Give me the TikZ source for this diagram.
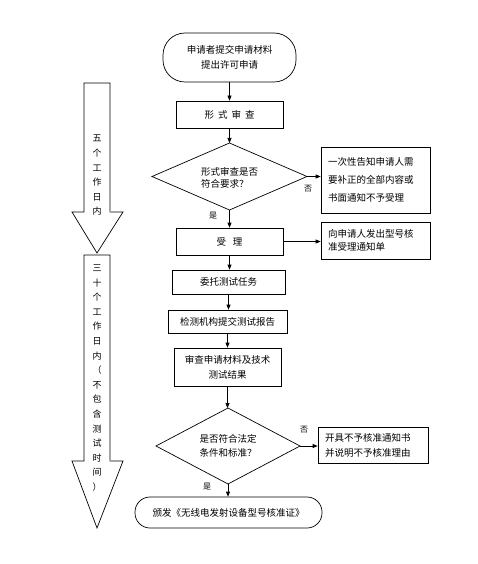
\documentclass[tikz,border=0pt]{standalone}
\usepackage{fontspec}
\setmainfont{Noto Sans CJK SC}
\usetikzlibrary{arrows.meta}
\begin{document}
\begin{tikzpicture}[x=1pt,y=-1pt,
  line width=0.7pt,
  box/.style={draw, inner sep=0pt, font=\fontsize{9.5}{15}\selectfont},
  arr/.style={-{Triangle[length=5pt,width=4pt]}},
  lbl/.style={font=\fontsize{8}{8}\selectfont, inner sep=0pt},
  txt/.style={inner sep=0pt, align=left},
  vtext/.style={font=\fontsize{9}{14.6}\selectfont, align=center, inner sep=0pt},
  bigarrow/.style={draw, line width=0.7pt, fill=white},
  shadow/.style={draw=gray!70, line width=1.6pt}
]
\useasboundingbox (0,0) rectangle (478,564);
\fill[white] (0,0) rectangle (478,564);

% left time arrows
\draw[bigarrow] (84,83) -- (110,83) -- (110,212) -- (123,212) -- (97,253) -- (72,212) -- (84,212) -- cycle;
\draw[shadow] (110.5,84) -- (110.5,211.5);
\node[vtext] (t1) at (97,175.5) {五\\个\\工\\作\\日\\内};

\draw[bigarrow] (84,255) -- (110,255) -- (110,461) -- (123,461) -- (97,528) -- (72,461) -- (84,461) -- cycle;
\draw[shadow] (110.5,256) -- (110.5,460.5);
\node[vtext] (t2) at (97,378) {三\\十\\个\\工\\作\\日\\内\\（\\不\\包\\含\\测\\试\\时\\间\\）};

% main flow
\node[box, rounded corners=22pt, minimum width=133pt, minimum height=49pt, align=center] (start) at (229.5,57.5) {申请者提交申请材料\\提出许可申请};
\node[box, minimum width=107pt, minimum height=27pt] (xs) at (229.5,114.5) {形\hspace{4pt}式\hspace{4pt}审\hspace{4pt}查};

\coordinate (d1t) at (229.5,143);
\coordinate (d1r) at (307,176.5);
\coordinate (d1b) at (229.5,210);
\coordinate (d1l) at (152,176.5);
\draw (d1t) -- (d1r) -- (d1b) -- (d1l) -- cycle;
\node[txt, font=\fontsize{9.5}{12}\selectfont] (d1) at (229.5,177.5) {形式审查是否\\符合要求？};

\node[box, minimum width=109pt, minimum height=66pt, text width=95pt, align=left, font=\fontsize{9.5}{18}\selectfont] (r1) at (375.5,180) {一次性告知申请人需\\要补正的全部内容或\\书面通知不予受理};

\node[box, minimum width=107pt, minimum height=27pt] (sl) at (229.5,241.5) {受\hspace{7pt}理};
\node[box, minimum width=109pt, minimum height=37pt, text width=95pt, align=left, font=\fontsize{9.5}{13}\selectfont] (r2) at (375.5,240.5) {向申请人发出型号核\\准受理通知单};

\node[box, minimum width=113pt, minimum height=24pt] (wt) at (228.5,282) {委托测试任务};
\node[box, minimum width=119pt, minimum height=23pt] (jc) at (227.5,321.5) {检测机构提交测试报告};
\node[box, minimum width=107pt, minimum height=38pt, align=center] (sc) at (227.5,367) {审查申请材料及技术\\测试结果};

\coordinate (d2t) at (228,408);
\coordinate (d2r) at (300,446);
\coordinate (d2b) at (228,484);
\coordinate (d2l) at (156,446);
\draw (d2t) -- (d2r) -- (d2b) -- (d2l) -- cycle;
\node[txt, font=\fontsize{9.5}{14}\selectfont] (d2) at (228,446) {是否符合法定\\条件和标准？};

\node[box, minimum width=110pt, minimum height=36pt, text width=96pt, align=left, font=\fontsize{9.5}{15}\selectfont] (r3) at (373,445) {开具不予核准通知书\\并说明不予核准理由};

\node[box, rounded corners=15pt, minimum width=187pt, minimum height=31pt] (end) at (228.5,512.5) {颁发《无线电发射设备型号核准证》};

% connectors
\draw[arr] (start.south) -- (start.south |- xs.north);
\draw[arr] (xs.south) -- (d1t);
\draw[arr] (d1r) -- (d1r -| r1.west);
\draw[arr] (d1b) -- (d1b |- sl.north);
\draw[arr] (sl.east) -- (sl.east -| r2.west);
\draw[arr] (sl.south) -- (sl.south |- wt.north);
\draw[arr] (wt.south) -- (wt.south |- jc.north);
\draw[arr] (jc.south) -- (jc.south |- sc.north);
\draw[arr] (sc.south) -- (sc.south |- d2t);
\draw[arr] (d2r) -- (d2r -| r3.west);
\draw[arr] (d2b) -- (d2b |- end.north);

\node[lbl] (n1) at (308,189) {否};
\node[lbl] (y1) at (213,216) {是};
\node[lbl] (n2) at (304,430) {否};
\node[lbl] (y2) at (207,487) {是};
\end{tikzpicture}
\end{document}
